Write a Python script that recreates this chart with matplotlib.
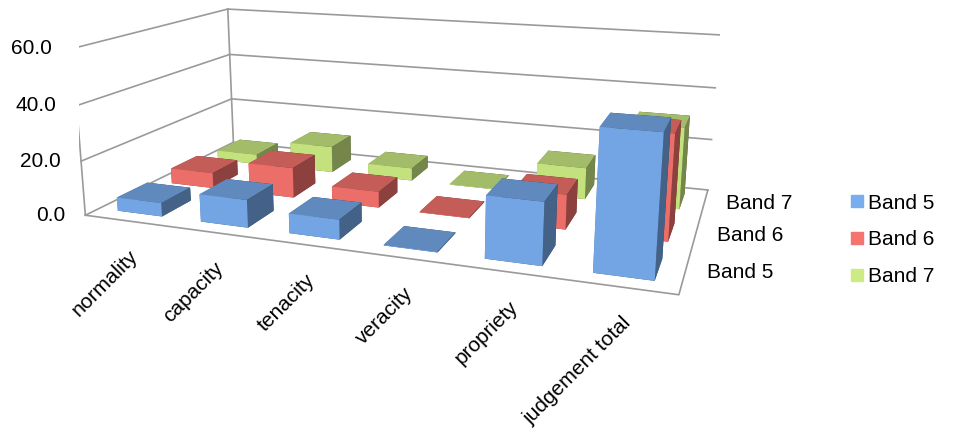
import numpy as np
import matplotlib.pyplot as plt
from matplotlib.lines import Line2D
from matplotlib.colors import LightSource
from mpl_toolkits.mplot3d import proj3d

categories = ["normality", "capacity", "tenacity", "veracity", "propriety", "judgement total"]
series = ["Band 5", "Band 6", "Band 7"]
band5 = [5.0, 10.0, 7.0, 0.3, 21.0, 46.0]
band6 = [6.0, 11.5, 6.0, 0.3, 12.5, 37.0]
band7 = [4.0, 10.5, 5.0, 0.3, 12.0, 30.5]
z_ticks = [0, 20, 40, 60]
colors = ["#78adee", "#f6736e", "#ccec83"]

plt.rcParams["font.family"] = "Liberation Sans"

fig = plt.figure(figsize=(9.57, 4.4), dpi=100)
ax = fig.add_axes([-0.092, -0.028, 1.019, 1.456], projection="3d")
ax.set_proj_type("persp", focal_length=0.3)
ax.view_init(elev=14, azim=-70)

values = [band5, band6, band7]
n_cat = len(categories)
n_ser = len(series)
xmin, xmax = -0.5, n_cat - 0.5
ymin, ymax = -0.5, n_ser - 0.5
zmax = z_ticks[-1]

xs, ys, dzs, cs = [], [], [], []
for j in range(n_ser):
    for i in range(n_cat):
        xs.append(i - 0.27)
        ys.append(j - 0.27)
        dzs.append(values[j][i])
        cs.append(colors[j])
ls = LightSource(azdeg=195, altdeg=25)
ax.bar3d(xs, ys, np.zeros(len(xs)), 0.54, 0.54, dzs, color=cs, shade=True,
         lightsource=ls, edgecolor="none")

# walls and floor
wall = dict(color="#9a9a9a", lw=1.2)
for z in z_ticks:
    ax.plot([xmin, xmin], [ymin, ymax], [z, z], **wall)
    ax.plot([xmin, xmax], [ymax, ymax], [z, z], **wall)
ax.plot([xmin, xmin], [ymin, ymin], [0, zmax], **wall)
ax.plot([xmin, xmin], [ymax, ymax], [0, zmax], **wall)
ax.plot([xmin, xmax, xmax], [ymin, ymin, ymax], [0, 0, 0], **wall)

ax.set_xlim(xmin, xmax)
ax.set_ylim(ymin, ymax)
ax.set_zlim(0, zmax)
ax.set_box_aspect((6, 3.1, 1.75))
ax.set_axis_off()

fig.canvas.draw()
M = ax.get_proj()


def put(x, y, z, s, dx, dy, **kw):
    px, py, _ = proj3d.proj_transform(x, y, z, M)
    ax.annotate(s, xy=(px, py), xytext=(dx, dy), textcoords="offset pixels",
                fontsize=15, annotation_clip=False, **kw)


for z in z_ticks:
    put(xmin, ymin, z, f"{z:.1f}", -20, 0, ha="right", va="center")
for j, s in enumerate(series):
    put(xmax, j, 0, s, 22, 0, ha="left", va="center")
for i, c in enumerate(categories):
    put(i, ymin, 0, c, 2, -26, ha="right", va="top", rotation=45,
        rotation_mode="anchor")

handles = [Line2D([], [], marker="s", ls="none", markersize=8, color=c) for c in colors]
fig.legend(handles, series, loc="center left", bbox_to_anchor=(0.865, 0.455),
           frameon=False, fontsize=15, handletextpad=0.05, labelspacing=0.85,
           handlelength=1.0)

fig.savefig("out.png", dpi=100)
